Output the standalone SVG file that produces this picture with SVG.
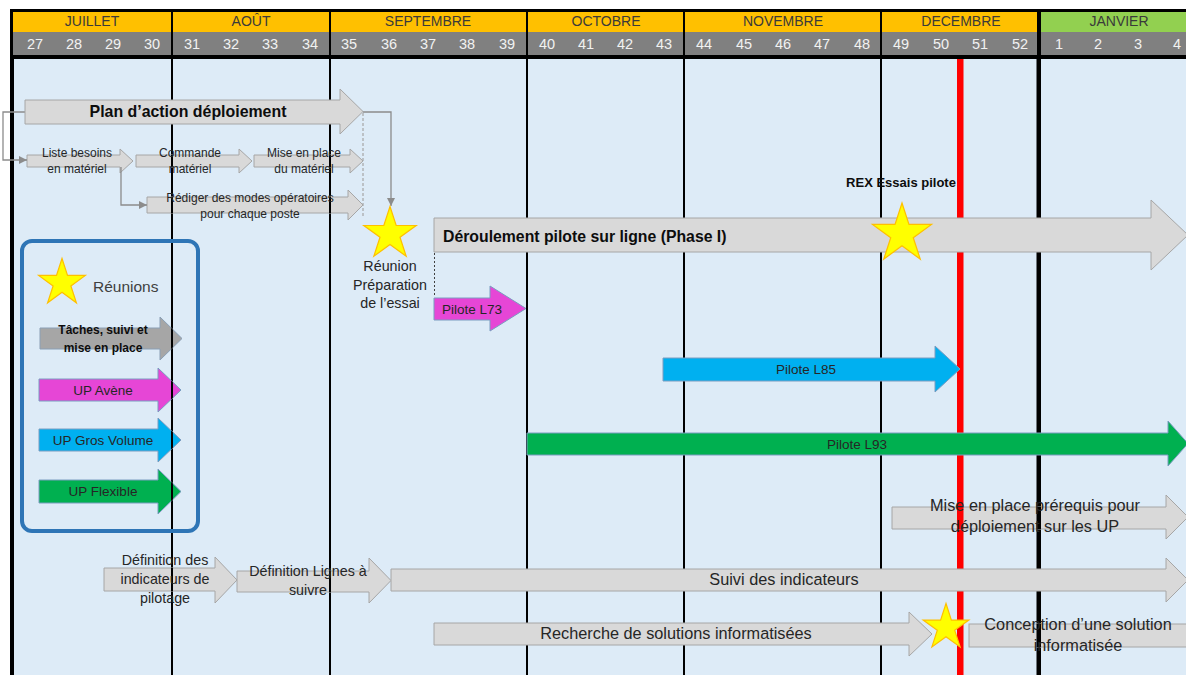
<svg xmlns="http://www.w3.org/2000/svg" width="1186" height="675" viewBox="0 0 1186 675">
<style>
.mon{font-family:"Liberation Sans",Arial,sans-serif;font-size:14px;fill:#3a3a3a;text-anchor:middle}
.wk{font-family:"Liberation Sans",Arial,sans-serif;font-size:14.5px;fill:#f2f2f2;text-anchor:middle}
.g{fill:#d9d9d9;stroke:#a6a6a6;stroke-width:1}
.gd{fill:#a6a6a6;stroke:#8a9fb5;stroke-width:1}
.mg{fill:#e646d6;stroke:#7a9cc0;stroke-width:1}
.cy{fill:#00b0f0;stroke:#7a9cc0;stroke-width:1}
.gr{fill:#00b050;stroke:#7a9cc0;stroke-width:1}
.t{font-family:"Liberation Sans",Arial,sans-serif;fill:#262626;text-anchor:middle}
.s12{font-size:12px}.s13{font-size:13.5px}.s14{font-size:14.3px}.s16{font-size:16.3px}
.b{font-weight:bold;fill:#0d0d0d}
.vl{fill:#000}
.star{fill:#ffff00;stroke:#ffc000}
.con{fill:none;stroke:#8c8c8c;stroke-width:1.3}
</style>
<defs>
<polygon id="st" points="0,-1 0.2245,-0.309 0.9511,-0.309 0.3633,0.118 0.5878,0.809 0,0.382 -0.5878,0.809 -0.3633,0.118 -0.9511,-0.309 -0.2245,-0.309"/>
<marker id="ah" viewBox="0 0 10 10" refX="10" refY="5" markerWidth="8" markerHeight="8" markerUnits="userSpaceOnUse" orient="auto"><path d="M0,0 L10,5 L0,10 Z" fill="#8c8c8c"/></marker>
<g id="gl">
<rect class="vl" x="10" y="59" width="4" height="616"/>
<rect class="vl" x="171" y="59" width="2" height="616"/>
<rect class="vl" x="329" y="59" width="2" height="616"/>
<rect class="vl" x="526" y="59" width="2" height="616"/>
<rect class="vl" x="683" y="59" width="2" height="616"/>
<rect class="vl" x="880" y="59" width="2" height="616"/>
<rect class="vl" x="1036.5" y="59" width="4.5" height="616"/>
<rect x="957" y="59" width="6.5" height="616" fill="#ff0000"/>
</g>
<path id="p-tach" d="M40,328 L160,328 L160,317 L182,338.5 L160,360 L160,349 L40,349 Z"/>
<path id="p-ave" d="M39,379 L158,379 L158,368 L181,390 L158,412 L158,401 L39,401 Z"/>
<path id="p-gv" d="M39,429 L158,429 L158,418 L181,440 L158,462 L158,451 L39,451 Z"/>
<path id="p-fl" d="M39,480 L158,480 L158,469 L181,491.5 L158,514 L158,503 L39,503 Z"/>
<path id="p-com" d="M136,155 L239,155 L239,149 L252,161 L239,173 L239,167 L136,167 Z"/>
<path id="p-mep" d="M254,155 L350,155 L350,149 L363,161 L350,173 L350,167 L254,167 Z"/>
<path id="p-red" d="M147,197 L348,197 L348,190 L363,205 L348,220 L348,213 L147,213 Z"/>
<path id="p-di" d="M104,568 L215,568 L215,557 L237,580 L215,603 L215,591 L104,591 Z"/>
<path id="p-dl" d="M237,571 L369,571 L369,558 L391,580.5 L369,603 L369,592 L237,592 Z"/>
<path id="p-pre" d="M892,507 L1166,507 L1166,495 L1188,517 L1166,539 L1166,529 L892,529 Z"/>
<rect id="p-con" x="969" y="624" width="220" height="23"/>
<clipPath id="c-tach"><use href="#p-tach"/></clipPath>
<clipPath id="c-ave"><use href="#p-ave"/></clipPath>
<clipPath id="c-gv"><use href="#p-gv"/></clipPath>
<clipPath id="c-fl"><use href="#p-fl"/></clipPath>
<clipPath id="c-com"><use href="#p-com"/></clipPath>
<clipPath id="c-mep"><use href="#p-mep"/></clipPath>
<clipPath id="c-red"><use href="#p-red"/></clipPath>
<clipPath id="c-di"><use href="#p-di"/></clipPath>
<clipPath id="c-dl"><use href="#p-dl"/></clipPath>
<clipPath id="c-pre"><use href="#p-pre"/></clipPath>
<clipPath id="c-con"><use href="#p-con"/></clipPath>
</defs>

<!-- background -->
<rect x="0" y="0" width="1186" height="675" fill="#ffffff"/>
<rect x="14" y="59" width="1172" height="616" fill="#ddebf7"/>

<!-- header -->
<g id="header">
<rect x="10" y="9" width="1176" height="50" fill="#000"/>
<rect x="13" y="12" width="158" height="20" fill="#ffc000"/>
<rect x="173" y="12" width="156" height="20" fill="#ffc000"/>
<rect x="331" y="12" width="195" height="20" fill="#ffc000"/>
<rect x="528" y="12" width="155" height="20" fill="#ffc000"/>
<rect x="685" y="12" width="195" height="20" fill="#ffc000"/>
<rect x="882" y="12" width="155" height="20" fill="#ffc000"/>
<rect x="1041" y="12" width="145" height="20" fill="#92d050"/>
<rect x="13" y="32" width="158" height="23" fill="#808080"/>
<rect x="173" y="32" width="156" height="23" fill="#808080"/>
<rect x="331" y="32" width="195" height="23" fill="#808080"/>
<rect x="528" y="32" width="155" height="23" fill="#808080"/>
<rect x="685" y="32" width="195" height="23" fill="#808080"/>
<rect x="882" y="32" width="155" height="23" fill="#808080"/>
<rect x="1041" y="32" width="145" height="23" fill="#808080"/>
<text class="mon" x="92" y="26">JUILLET</text>
<text class="mon" x="251" y="26">AOÛT</text>
<text class="mon" x="428" y="26">SEPTEMBRE</text>
<text class="mon" x="606" y="26">OCTOBRE</text>
<text class="mon" x="783" y="26">NOVEMBRE</text>
<text class="mon" x="961" y="26">DECEMBRE</text>
<text class="mon" x="1119" y="26">JANVIER</text>
<text class="wk" x="35" y="49">27</text><text class="wk" x="74" y="49">28</text><text class="wk" x="113" y="49">29</text><text class="wk" x="152" y="49">30</text>
<text class="wk" x="192" y="49">31</text><text class="wk" x="231" y="49">32</text><text class="wk" x="270" y="49">33</text><text class="wk" x="310" y="49">34</text>
<text class="wk" x="349" y="49">35</text><text class="wk" x="389" y="49">36</text><text class="wk" x="428" y="49">37</text><text class="wk" x="467" y="49">38</text><text class="wk" x="507" y="49">39</text>
<text class="wk" x="547" y="49">40</text><text class="wk" x="586" y="49">41</text><text class="wk" x="625" y="49">42</text><text class="wk" x="664" y="49">43</text>
<text class="wk" x="704" y="49">44</text><text class="wk" x="744" y="49">45</text><text class="wk" x="783" y="49">46</text><text class="wk" x="822" y="49">47</text><text class="wk" x="862" y="49">48</text>
<text class="wk" x="901" y="49">49</text><text class="wk" x="941" y="49">50</text><text class="wk" x="980" y="49">51</text><text class="wk" x="1020" y="49">52</text>
<text class="wk" x="1059" y="49">1</text><text class="wk" x="1098" y="49">2</text><text class="wk" x="1138" y="49">3</text><text class="wk" x="1177" y="49">4</text>
</g>

<!-- grid lines -->
<use id="grid" href="#gl"/>

<!-- nodes whose body the grid lines cross visibly -->
<g id="legend">
<rect x="22" y="241" width="176" height="290" rx="10" fill="none" stroke="#2e75b6" stroke-width="4"/>
<use href="#st" class="star" transform="translate(62,283) scale(24.5)" style="stroke-width:0.05"/>
<text x="93" y="292" font-family="Liberation Sans, Arial, sans-serif" font-size="15.5" fill="#404040">Réunions</text>
<use href="#p-tach" class="gd"/><use href="#gl" clip-path="url(#c-tach)"/>
<text class="t s12 b" x="103" y="334">Tâches, suivi et</text>
<text class="t s12 b" x="103" y="352">mise en place</text>
<use href="#p-ave" class="mg"/><use href="#gl" clip-path="url(#c-ave)"/>
<text class="t s13" x="103" y="395">UP Avène</text>
<use href="#p-gv" class="cy"/><use href="#gl" clip-path="url(#c-gv)"/>
<text class="t s13" x="103" y="445">UP Gros Volume</text>
<use href="#p-fl" class="gr"/><use href="#gl" clip-path="url(#c-fl)"/>
<text class="t s13" x="103" y="496">UP Flexible</text>
</g>

<g id="liste">
<path class="g" d="M27,155 L120,155 L120,149 L133,161 L120,173 L120,167 L27,167 Z"/>
<text class="t s12" x="77" y="157">Liste besoins</text>
<text class="t s12" x="77" y="173">en matériel</text>
</g>
<g id="commande">
<use href="#p-com" class="g"/><use href="#gl" clip-path="url(#c-com)"/>
<text class="t s12" x="190" y="157">Commande</text>
<text class="t s12" x="190" y="173">matériel</text>
</g>
<g id="miseplace">
<use href="#p-mep" class="g"/><use href="#gl" clip-path="url(#c-mep)"/>
<text class="t s12" x="304" y="157">Mise en place</text>
<text class="t s12" x="304" y="173">du matériel</text>
</g>
<g id="rediger">
<use href="#p-red" class="g"/><use href="#gl" clip-path="url(#c-red)"/>
<text class="t s12" x="250" y="202">Rédiger des modes opératoires</text>
<text class="t s12" x="250" y="218">pour chaque poste</text>
</g>
<g id="def-indicateurs">
<use href="#p-di" class="g"/><use href="#gl" clip-path="url(#c-di)"/>
<text class="t s14" x="165" y="565">Définition des</text>
<text class="t s14" x="165" y="584">indicateurs de</text>
<text class="t s14" x="165" y="603">pilotage</text>
</g>
<g id="def-lignes">
<use href="#p-dl" class="g"/><use href="#gl" clip-path="url(#c-dl)"/>
<text class="t s14" x="308" y="576">Définition Lignes à</text>
<text class="t s14" x="308" y="595">suivre</text>
</g>
<g id="prerequis">
<use href="#p-pre" class="g"/><use href="#gl" clip-path="url(#c-pre)"/>
<text class="t s16" x="1035" y="511">Mise en place prérequis pour</text>
<text class="t s16" x="1035" y="532">déploiement sur les UP</text>
</g>
<g id="conception">
<use href="#p-con" class="g"/><use href="#gl" clip-path="url(#c-con)"/>
<text class="t s16" x="1078" y="630">Conception d’une solution</text>
<text class="t s16" x="1078" y="651">informatisée</text>
</g>

<!-- connectors -->
<g id="connectors">
<path class="con" d="M25,112 H3 V160 H27" marker-end="url(#ah)"/>
<path class="con" d="M121,167 V205 H147" marker-end="url(#ah)"/>
<path class="con" d="M363,112 H391 V206" marker-end="url(#ah)"/>
<path d="M363,113 V216" fill="none" stroke="#a6a6a6" stroke-width="1.2" stroke-dasharray="3,2"/>
<path d="M434.5,253 V297" fill="none" stroke="#404040" stroke-width="1" stroke-dasharray="2,2"/>
</g>

<!-- nodes drawn over the grid lines -->
<g id="plan">
<path class="g" d="M25,100 L340,100 L340,89 L363,111.5 L340,134 L340,124 L25,124 Z"/>
<text class="t b" x="188" y="117" font-size="15.9">Plan d’action déploiement</text>
</g>
<g id="reunion">
<use href="#st" class="star" transform="translate(390,234) scale(27.5)" style="stroke-width:0.045"/>
<text class="t s14" x="390" y="271">Réunion</text>
<text class="t s14" x="390" y="290">Préparation</text>
<text class="t s14" x="390" y="308">de l’essai</text>
</g>
<g id="deroulement">
<path class="g" d="M434,218 L1151,218 L1151,200 L1188,235 L1151,270 L1151,252 L434,252 Z"/>
<text x="443" y="242" font-family="Liberation Sans, Arial, sans-serif" font-size="15.8" font-weight="bold" fill="#0d0d0d">Déroulement pilote sur ligne (Phase I)</text>
</g>
<g id="rex">
<text class="t b" x="901" y="186.5" font-size="13">REX Essais pilote</text>
<use href="#st" class="star" transform="translate(902,234) scale(31)" style="stroke-width:0.04"/>
</g>
<g id="l73">
<path class="mg" d="M434,298 L490,298 L490,286 L526,308.5 L490,331 L490,320 L434,320 Z"/>
<text class="t s13" x="472" y="314">Pilote L73</text>
</g>
<g id="l85">
<path class="cy" d="M663,358 L935,358 L935,346 L960,369 L935,392 L935,381 L663,381 Z"/>
<text class="t s13" x="806" y="374">Pilote L85</text>
</g>
<g id="l93">
<path class="gr" d="M527,433 L1168,433 L1168,421 L1188,443.5 L1168,466 L1168,455 L527,455 Z"/>
<text class="t s13" x="857" y="449">Pilote L93</text>
</g>
<g id="suivi">
<path class="g" d="M391,569 L1166,569 L1166,558 L1188,580 L1166,602 L1166,591 L391,591 Z"/>
<text class="t s16" x="784" y="585">Suivi des indicateurs</text>
</g>
<g id="recherche">
<path class="g" d="M434,623 L909,623 L909,612 L932,634 L909,656 L909,645 L434,645 Z"/>
<text class="t s16" x="676" y="639">Recherche de solutions informatisées</text>
</g>
<g id="star-conception">
<use href="#st" class="star" transform="translate(946,627.5) scale(24)" style="stroke-width:0.05"/>
</g>
</svg>
